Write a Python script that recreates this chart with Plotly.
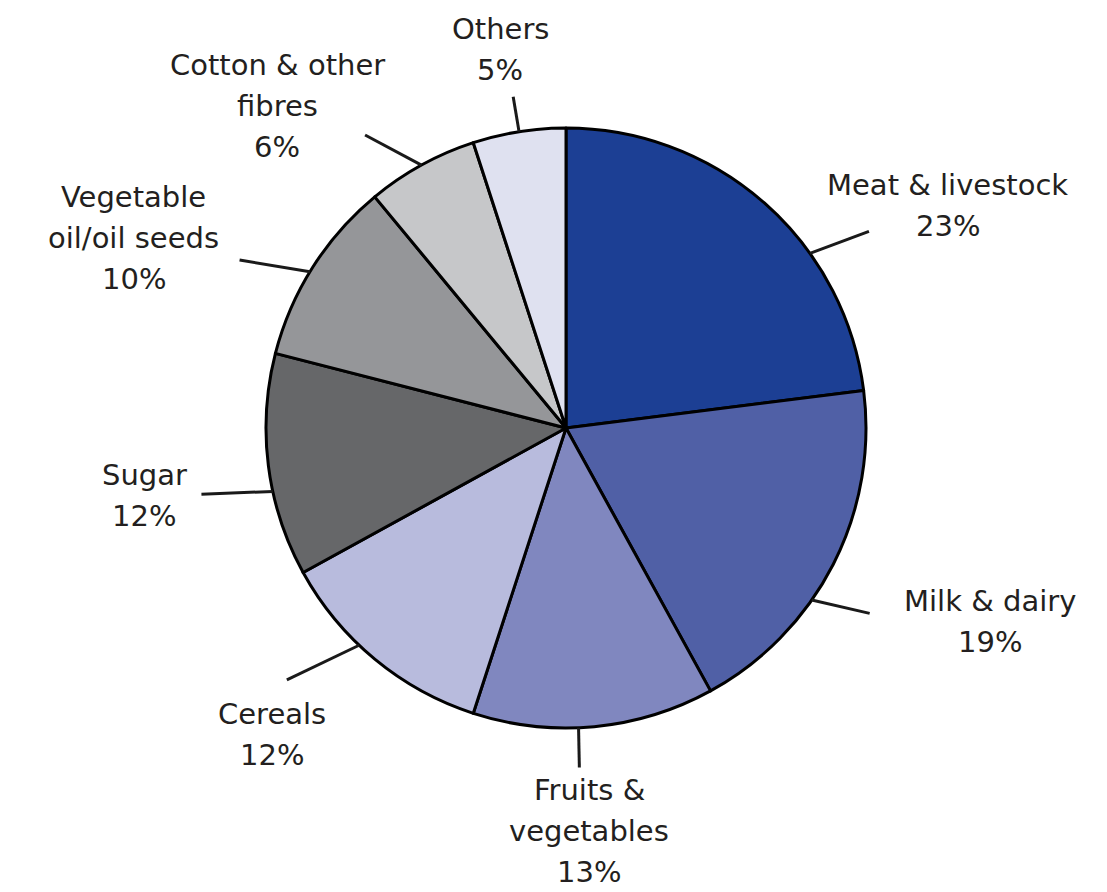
import math
import plotly.graph_objects as go

# ---- data ----
categories = ["Meat & livestock", "Milk & dairy", "Fruits & vegetables", "Cereals",
              "Sugar", "Vegetable oil/oil seeds", "Cotton & other fibres", "Others"]
shares = [23, 19, 13, 12, 12, 10, 6, 5]
label_lines = [["Meat & livestock"], ["Milk & dairy"], ["Fruits &", "vegetables"], ["Cereals"],
               ["Sugar"], ["Vegetable", "oil/oil seeds"], ["Cotton & other", "fibres"], ["Others"]]

# ---- styles / layout ----
colors = ["#1c3f94", "#5060a6", "#8087bf", "#b8bbdd",
          "#666769", "#959699", "#c6c7c9", "#dfe1f0"]
W, H = 1107, 892
CX, CY, R = 566, 428, 300
LINE_GAP = 41
# per label: angle tweak from slice middle (deg), leader vector (px),
# target leader end (px), label offset from leader end (px)
angle_tweak = [13, 8, 3, 4, -5, -1, 0, 0]
leader_vec = [(37, -24), (33, 15), (0, 33), (-48, 32), (-39, 3), (-44, -14), (-38, -30), (-2, -34)]
ref_end = [(887, 233), (890, 612), (580, 773), (267, 682), (175, 494), (218, 262), (350, 135), (510, 96)]
label_off = [(79, -26), (120, 8), (10, 64), (-15, 55), (-57, 1), (-106, -22), (-88, -29), (-13, -47)]
BLEND = 0.55

fig = go.Figure(go.Pie(
    labels=categories, values=shares, sort=False, direction="clockwise", rotation=0,
    marker=dict(colors=colors, line=dict(color="#000000", width=3)),
    textinfo="none", hoverinfo="label+percent", showlegend=False,
    domain=dict(x=[(CX - R) / W, (CX + R) / W], y=[1 - (CY + R) / H, 1 - (CY - R) / H]),
))

total = sum(shares)
shapes, annotations = [], []
cum = 0
for i, v in enumerate(shares):
    mid = 360 * (cum + v / 2) / total + angle_tweak[i]
    cum += v
    a = math.radians(mid)
    sx, sy = CX + R * math.sin(a), CY - R * math.cos(a)
    cx_, cy_ = sx + leader_vec[i][0], sy + leader_vec[i][1]
    ex = cx_ + BLEND * (ref_end[i][0] - cx_)
    ey = cy_ + BLEND * (ref_end[i][1] - cy_)
    lx, ly = ex + label_off[i][0], ey + label_off[i][1]
    shapes.append(dict(type="line", xref="paper", yref="paper",
                       x0=sx / W, y0=1 - sy / H, x1=ex / W, y1=1 - ey / H,
                       line=dict(color="#1a1a1a", width=3)))
    lines = label_lines[i] + [f"{round(100 * v / total)}%"]
    n = len(lines)
    for j, t in enumerate(lines):
        yy = ly + (j - (n - 1) / 2) * LINE_GAP
        annotations.append(dict(xref="paper", yref="paper", x=lx / W, y=1 - yy / H,
                                xanchor="center", yanchor="middle", showarrow=False,
                                text=t, font=dict(family="DejaVu Sans", size=29, color="#231f20")))

fig.update_layout(width=W, height=H, margin=dict(l=0, r=0, t=0, b=0),
                  paper_bgcolor="white", plot_bgcolor="white",
                  shapes=shapes, annotations=annotations)
fig.write_html("out.html")
